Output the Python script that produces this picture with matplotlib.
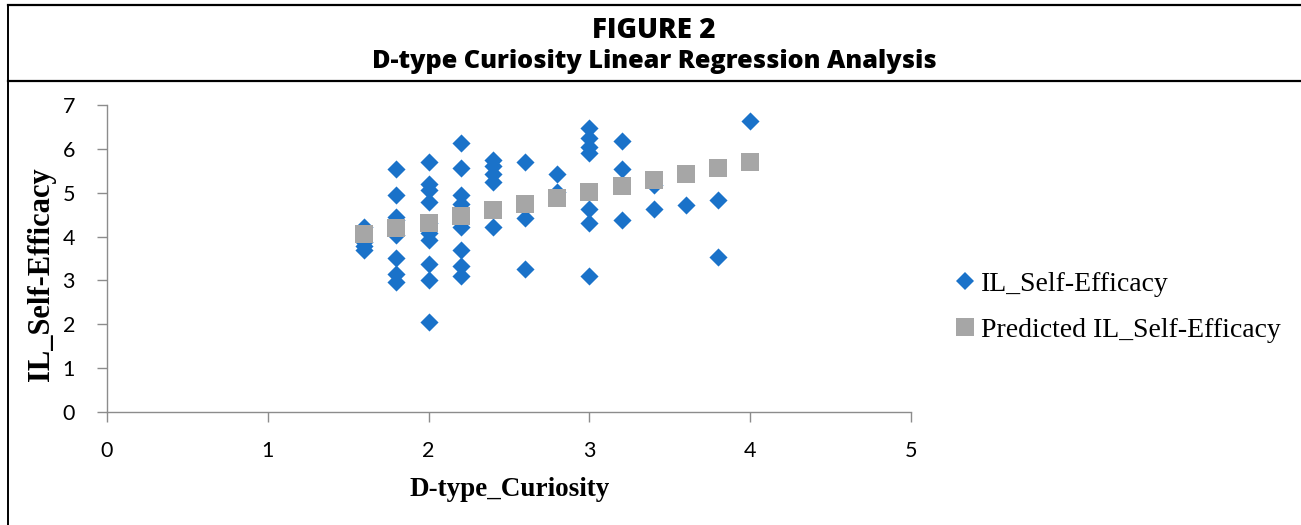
import matplotlib
matplotlib.use("Agg")
import matplotlib.pyplot as plt
from matplotlib.lines import Line2D

BLUE = "#1A72C9"  # observed
GREY = "#A6A6A6"  # predicted
AXIS = "#8C8C8C"

# observed IL_Self-Efficacy by D-type_Curiosity
curiosity = [1.6, 1.6, 1.6, 1.6,
             1.8, 1.8, 1.8, 1.8, 1.8, 1.8, 1.8, 1.8,
             2.0, 2.0, 2.0, 2.0, 2.0, 2.0, 2.0, 2.0, 2.0, 2.0,
             2.2, 2.2, 2.2, 2.2, 2.2, 2.2, 2.2, 2.2,
             2.4, 2.4, 2.4, 2.4, 2.4,
             2.6, 2.6, 2.6,
             2.8, 2.8,
             3.0, 3.0, 3.0, 3.0, 3.0, 3.0, 3.0,
             3.2, 3.2, 3.2,
             3.4, 3.4,
             3.6,
             3.8, 3.8,
             4.0]
self_efficacy = [4.22, 3.88, 3.78, 3.70,
                 5.54, 4.95, 4.45, 4.38, 4.03, 3.52, 3.15, 2.96,
                 5.71, 5.20, 5.06, 4.78, 4.30, 4.08, 3.93, 3.38, 3.01, 2.06,
                 6.13, 5.56, 4.95, 4.75, 4.22, 3.69, 3.32, 3.10,
                 5.75, 5.62, 5.42, 5.25, 4.22,
                 5.71, 4.43, 3.25,
                 5.42, 5.02,
                 6.47, 6.24, 6.05, 5.90, 4.63, 4.30, 3.11,
                 6.19, 5.54, 4.37,
                 5.18, 4.64,
                 4.73,
                 4.84, 3.54,
                 6.63]

# fitted line values
pred_x = [1.6, 1.8, 2.0, 2.2, 2.4, 2.6, 2.8, 3.0, 3.2, 3.4, 3.6, 3.8, 4.0]
pred_y = [4.05, 4.19, 4.32, 4.46, 4.60, 4.74, 4.88, 5.01, 5.15, 5.29, 5.43, 5.57, 5.71]

x_ticks = [0, 1, 2, 3, 4, 5]
y_ticks = [0, 1, 2, 3, 4, 5, 6, 7]

W, H = 1301, 525
fig = plt.figure(figsize=(W / 100, H / 100), dpi=100)

def fx(px):
    return px / W

def fy(py):
    return 1 - py / H

# frame lines round the figure
fig.add_artist(Line2D([fx(8), 1], [fy(5), fy(5)], color="black", lw=1.6))
fig.add_artist(Line2D([fx(8), 1], [fy(81), fy(81)], color="black", lw=1.6))
fig.add_artist(Line2D([fx(8), fx(8)], [fy(5), 0], color="black", lw=1.4))

fig.text(fx(654), fy(30), "FIGURE 2", ha="center", va="center",
         fontsize=20, fontweight="heavy", family="Open Sans")
fig.text(fx(654), fy(61), "D-type Curiosity Linear Regression Analysis",
         ha="center", va="center", fontsize=18.2, fontweight="heavy",
         family="Open Sans")

ax = fig.add_axes([fx(107), fy(412), fx(911) - fx(107), fy(105) - fy(412)])
ax.scatter(curiosity, self_efficacy, marker="D", s=85, color=BLUE,
           linewidths=0, zorder=3)
ax.scatter(pred_x, pred_y, marker="s", s=175, color=GREY,
           linewidths=0, zorder=4)

ax.set_xlim(0, 5)
ax.set_ylim(0, 7)
ax.set_xticks(x_ticks)
ax.set_yticks(y_ticks)
for s in ["top", "right"]:
    ax.spines[s].set_visible(False)
for s in ["left", "bottom"]:
    ax.spines[s].set_color(AXIS)
    ax.spines[s].set_linewidth(1.0)
ax.tick_params(axis="both", direction="out", length=7, width=1.0,
               color=AXIS, labelsize=15.5)
ax.tick_params(axis="x", pad=14)
ax.tick_params(axis="y", pad=16)
for lab in ax.get_xticklabels() + ax.get_yticklabels():
    lab.set_family("Lato")

fig.text(fx(42), fy(274), "IL_Self-Efficacy", rotation=90, ha="center",
         va="center", fontsize=22, fontweight="bold", family="Liberation Serif")
fig.text(fx(510), fy(490), "D-type_Curiosity", ha="center", va="center",
         fontsize=19.5, fontweight="bold", family="Liberation Serif")

handles = [
    Line2D([], [], marker="D", linestyle="none", color=BLUE, markersize=9,
           markeredgewidth=0, label="IL_Self-Efficacy"),
    Line2D([], [], marker="s", linestyle="none", color=GREY, markersize=12.5,
           markeredgewidth=0, label="Predicted IL_Self-Efficacy"),
]
fig.legend(handles=handles, loc="center left",
           bbox_to_anchor=(fx(957), fy(307)), frameon=False,
           prop={"family": "Liberation Serif", "size": 20},
           handlelength=0.6, handletextpad=0.25, labelspacing=0.75,
           borderpad=0, borderaxespad=0)

fig.savefig("out.png", dpi=100)
